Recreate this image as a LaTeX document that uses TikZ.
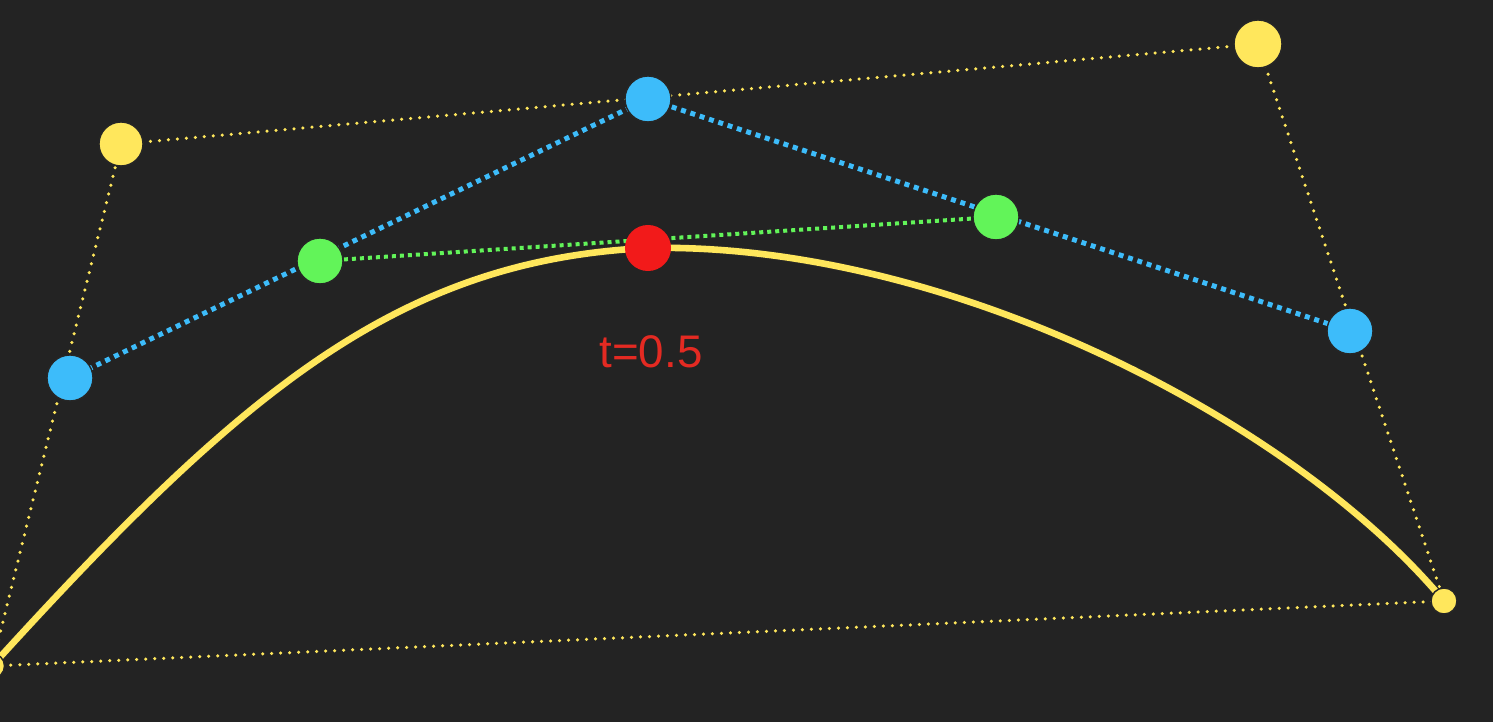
\documentclass[tikz,border=0pt]{standalone}
\usepackage{fontspec}
\setmainfont{Liberation Sans}
\definecolor{bgdark}{HTML}{232323}
\definecolor{ptyellow}{HTML}{FFE75C}
\definecolor{ptblue}{HTML}{3DBCFA}
\definecolor{ptgreen}{HTML}{62F459}
\definecolor{ptred}{HTML}{F21A1A}
\definecolor{txtred}{HTML}{E42A22}

\begin{document}
\begin{tikzpicture}[x=0.01cm, y=-0.01cm,
  hull/.style={ptyellow, line width=0.035cm, dash pattern=on 0pt off 0.09cm, line cap=round},
  midhull/.style={ptblue, line width=0.05cm, dash pattern=on 0.05cm off 0.048cm},
  innerhull/.style={ptgreen, line width=0.04cm, dash pattern=on 0.04cm off 0.04cm},
  curve/.style={draw=black!85, double=ptyellow, double distance=0.066cm, line width=0.35pt},
  dot/.style={circle, draw=black!85, line width=0.4pt, inner sep=0pt, minimum size=0.46cm, fill=#1}]
\fill[bgdark] (0,0) rectangle (1493,722);
\useasboundingbox (0,0) rectangle (1493,722);

\coordinate (p0) at (-8,666);
\coordinate (p1) at (121,144);
\coordinate (p2) at (1258,44);
\coordinate (p3) at (1444,601);
\coordinate (b0) at (70,378);
\coordinate (b1) at (648,99);
\coordinate (b2) at (1350,331);
\coordinate (g0) at (320,261);
\coordinate (g1) at (996,217);
\coordinate (r) at (648,248);
\coordinate (c1) at (242,391);
\coordinate (c2) at (398,260);
\coordinate (c3) at (948,242);
\coordinate (c4) at (1294,421);

\draw[hull] (p0) -- (p1) -- (p2) -- (p3) -- cycle;
\draw[midhull] (b0) -- (b1) -- (b2);
\draw[innerhull] (g0) -- (g1);
\draw[curve] (p0) .. controls (c1) and (c2) .. (r) .. controls (c3) and (c4) .. (p3);

\node[dot=ptyellow, minimum size=0.25cm] (n0) at (p0) {};
\node[dot=ptyellow, minimum size=0.44cm] (n1) at (p1) {};
\node[dot=ptyellow, minimum size=0.48cm] (n2) at (p2) {};
\node[dot=ptyellow, minimum size=0.26cm] (n3) at (p3) {};
\node[dot=ptblue] (m0) at (b0) {};
\node[dot=ptblue] (m1) at (b1) {};
\node[dot=ptblue] (m2) at (b2) {};
\node[dot=ptgreen] (q0) at (g0) {};
\node[dot=ptgreen] (q1) at (g1) {};
\node[dot=ptred, draw=none] (mid) at (r) {};
\node[txtred, font=\fontsize{13}{15}\selectfont] (tlabel) at (651,352) {t=0.5};
\end{tikzpicture}
\end{document}
